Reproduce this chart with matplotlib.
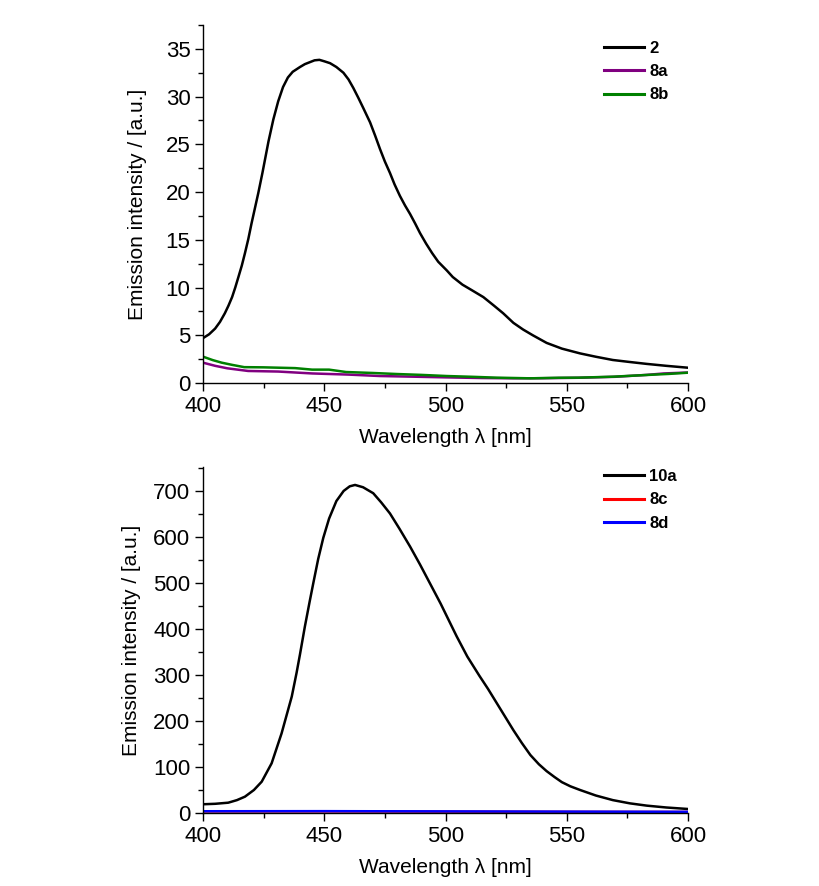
import matplotlib
matplotlib.use("Agg")
import matplotlib.pyplot as plt
from matplotlib.ticker import MultipleLocator

plt.rcParams['font.family'] = ['Liberation Sans', 'DejaVu Sans']

# ---- top panel data ----
wl_2 = [400, 402.5, 405, 407, 409, 410.5, 412, 413.3, 414.6, 416, 417.3, 418.7, 420, 421.4,
        422.8, 424.5, 427, 429, 431, 433, 435, 437, 440, 442, 444, 446, 448, 450, 452.4, 455,
        457.9, 460, 462, 464, 466.1, 468.9, 471, 473, 475, 477.1, 479, 481.2, 483.3, 485.4,
        487.5, 489.5, 492, 494.5, 497, 500.5, 503, 507, 511, 515.6, 520, 523.8, 528, 532, 536,
        541.7, 548, 555.5, 562, 569, 576, 583, 591, 600]
y_2 = [4.7, 5.1, 5.7, 6.4, 7.3, 8.1, 9.0, 10.0, 11.1, 12.3, 13.6, 15.1, 16.7, 18.3,
       19.9, 22.0, 25.3, 27.6, 29.5, 31.0, 32.0, 32.6, 33.1, 33.4, 33.6, 33.8, 33.85, 33.7, 33.5, 33.1,
       32.5, 31.8, 30.9, 29.9, 28.8, 27.3, 25.9, 24.5, 23.2, 22.0, 20.8, 19.6, 18.6, 17.7,
       16.7, 15.7, 14.6, 13.6, 12.7, 11.8, 11.1, 10.3, 9.7, 9.0, 8.1, 7.3, 6.3, 5.6, 5.0,
       4.2, 3.6, 3.1, 2.75, 2.41, 2.2, 2.0, 1.8, 1.6]

wl_8a = [400, 405, 410, 418.6, 431, 445, 460, 473, 487, 500, 515, 528, 540, 555, 570, 583, 590, 600]
y_8a = [2.13, 1.8, 1.54, 1.26, 1.2, 1.0, 0.88, 0.73, 0.66, 0.59, 0.52, 0.49, 0.5, 0.55, 0.65, 0.85, 1.0, 1.1]

wl_8b = [400, 404, 407.7, 412, 417, 425, 438, 445, 452, 459, 470, 480, 490, 500.6, 511, 521, 535,
         546.7, 555, 569, 583, 592, 600]
y_8b = [2.76, 2.4, 2.13, 1.9, 1.66, 1.64, 1.56, 1.4, 1.4, 1.15, 1.05, 0.94, 0.85, 0.73, 0.65, 0.56, 0.49,
        0.55, 0.56, 0.66, 0.84, 0.95, 1.08]

# ---- bottom panel data ----
wl_10a = [400, 405, 410.4, 414, 417.3, 421, 424.2, 428.3, 432.4, 436.6, 438.6, 440, 442, 444,
          445.5, 447.5, 449.6, 452, 455, 458, 460.5, 462.7, 466, 470.2, 473.5, 477.1, 481,
          485.4, 489.5, 493.6, 498, 501.9, 504.6, 509, 514, 517.5, 521, 524.5, 528, 531.5,
          535, 538.5, 541.7, 545, 548, 551.5, 555.5, 562, 569, 576, 583, 591, 600]
y_10a = [19, 20, 22.4, 28, 35.5, 50, 68, 108, 173, 253, 305, 345, 405, 460,
         500, 552, 598, 640, 678, 700, 710, 713, 708, 695, 675, 651, 618,
         579, 540, 499, 455, 413, 384, 340, 298, 270, 240, 210, 180, 152,
         126, 106, 91, 78, 67, 58, 50, 38, 28, 21, 16, 12, 8.7]

wl_8cd = [400, 450, 500, 550, 600]
y_8c = [3.5, 3.5, 3.0, 2.5, 2.2]
y_8d = [3.8, 4.0, 3.5, 3.0, 2.6]

W, H = 820, 886
fig = plt.figure(figsize=(W / 100, H / 100), dpi=100)

left = 203 / W
width = (688 - 203) / W
ax1 = fig.add_axes([left, 1 - 383 / H, width, (383 - 25) / H])
ax2 = fig.add_axes([left, 1 - 813 / H, width, (813 - 467) / H])

lw = 1.8
ax1.plot(wl_2, y_2, color='black', lw=lw, label='2')
ax1.plot(wl_8a, y_8a, color='#800080', lw=lw, label='8a')
ax1.plot(wl_8b, y_8b, color='#008000', lw=lw, label='8b')
ax1.set_ylim(0, 37.5)
ax1.yaxis.set_major_locator(MultipleLocator(5))
ax1.yaxis.set_minor_locator(MultipleLocator(2.5))

ax2.plot(wl_10a, y_10a, color='black', lw=lw, label='10a')
ax2.plot(wl_8cd, y_8c, color='#ff0000', lw=lw, label='8c')
ax2.plot(wl_8cd, y_8d, color='#0000ff', lw=lw, label='8d')
ax2.set_ylim(0, 752)
ax2.yaxis.set_major_locator(MultipleLocator(100))
ax2.yaxis.set_minor_locator(MultipleLocator(50))

for ax, ytop, ypad in ((ax1, 0.956, 13.5), (ax2, 0.994, 9.0)):
    ax.set_xlim(400, 600)
    ax.xaxis.set_major_locator(MultipleLocator(50))
    ax.xaxis.set_minor_locator(MultipleLocator(25))
    for s in ('top', 'right'):
        ax.spines[s].set_visible(False)
    for s in ('left', 'bottom'):
        ax.spines[s].set_linewidth(1.0)
    ax.tick_params(which='major', direction='out', length=6, width=1.0, labelsize=16, pad=3)
    ax.tick_params(which='minor', direction='out', length=3.5, width=1.0)
    ax.set_xlabel('Wavelength λ [nm]', fontsize=15, labelpad=8)
    ax.set_ylabel('Emission intensity / [a.u.]', fontsize=15, labelpad=ypad)
    leg = ax.legend(loc='upper left', bbox_to_anchor=(0.826, ytop), frameon=False,
                    prop={'weight': 'bold', 'size': 12}, handlelength=2.45,
                    handletextpad=0.3, labelspacing=0.5, borderpad=0, borderaxespad=0)
    for h in leg.get_lines():
        h.set_linewidth(2.2)

fig.savefig('out.png', dpi=100)
